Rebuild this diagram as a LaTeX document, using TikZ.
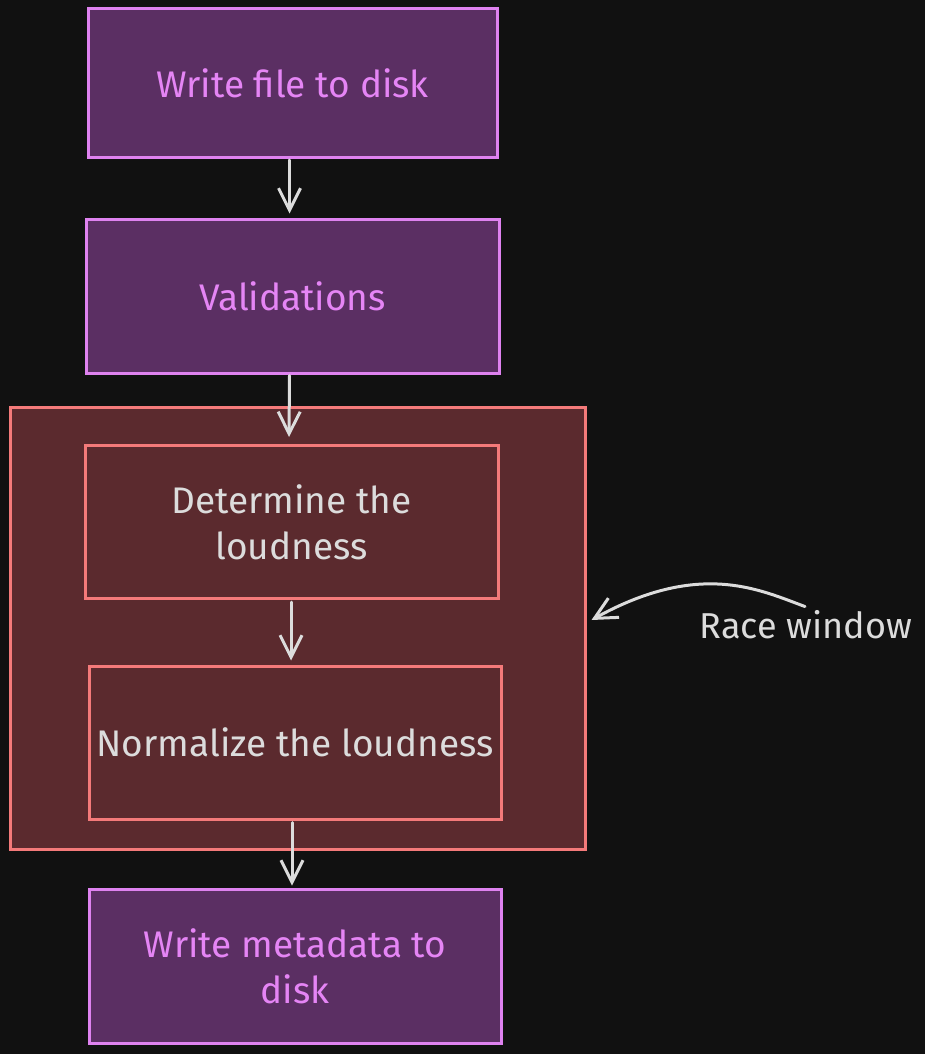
\documentclass[tikz,border=0pt]{standalone}
\usepackage{fontspec}
\setmainfont{Fira Sans}
\usetikzlibrary{arrows.meta}
\definecolor{bg}{HTML}{111111}
\definecolor{pfill}{HTML}{5B2F63}
\definecolor{pline}{HTML}{DF82F0}
\definecolor{ptext}{HTML}{E585F5}
\definecolor{rfill}{HTML}{5B2A2E}
\definecolor{rline}{HTML}{F47A7A}
\definecolor{gtext}{HTML}{DCDCDC}
\tikzset{
  pbox/.style={draw=pline, fill=pfill, line width=3pt, text=ptext, minimum width=409pt, minimum height=150pt, align=center, font=\fontsize{37}{46}\selectfont, inner sep=0pt},
  rbox/.style={draw=rline, fill=rfill, line width=3pt, text=gtext, minimum width=412pt, minimum height=153pt, align=center, font=\fontsize{37}{46}\selectfont, inner sep=0pt},
  arr/.style={draw=gtext, line width=3pt, line cap=round, -{Straight Barb[length=22pt,width=22pt,line width=3pt]}},
}
\begin{document}
\begin{tikzpicture}[x=1pt,y=-1pt]
\fill[bg] (0,0) rectangle (925,1054);
\useasboundingbox (0,0) rectangle (925,1054);
\node[draw=rline, fill=rfill, line width=3pt, minimum width=575pt, minimum height=442pt, inner sep=0pt] (cont) at (297.5,628) {};
\node[pbox, minimum width=409pt, minimum height=149pt] (w1) at (292.5,83) {Write file to disk};
\node[pbox, minimum width=413pt, minimum height=154pt] (val) at (292.5,296) {Validations};
\node[rbox, minimum width=413pt, minimum height=153pt] (det) at (291.5,522) {Determine the\\loudness};
\node[rbox, minimum width=412pt, minimum height=153pt] (norm) at (295,742.5) {Normalize the loudness};
\node[pbox, minimum width=412pt, minimum height=154pt] (meta) at (295,966) {Write metadata to\\disk};
\node[text=gtext, font=\fontsize{36}{40}\selectfont, inner sep=0pt] (race) at (806,625) {Race window};
\draw[arr] ([xshift=-3pt,yshift=-1pt]w1.south) -- ([xshift=-3pt,yshift=4pt]val.north);
\draw[arr] ([xshift=-3pt,yshift=-1pt]val.south) -- ([xshift=-2.5pt,yshift=7pt]det.north);
\draw[arr] ([xshift=-0.5pt,yshift=-2pt]det.south) -- ([xshift=-4pt,yshift=4pt]norm.north);
\draw[arr] ([xshift=-3pt,yshift=-2pt]norm.south) -- ([xshift=-3pt,yshift=2pt]meta.north);
\draw[arr] ([xshift=-1pt,yshift=4pt]race.north) .. controls (760,590) and (700,560) .. ([xshift=5pt,yshift=8pt]cont.east);
\end{tikzpicture}
\end{document}
